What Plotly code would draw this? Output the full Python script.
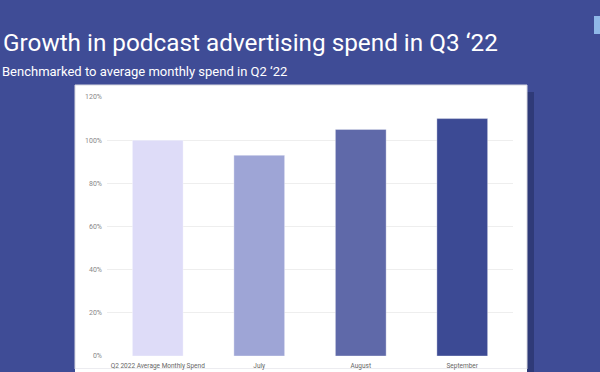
import plotly.graph_objects as go

categories = ["Q2 2022 Average Monthly Spend", "July", "August", "September"]
values = [100, 93, 105, 110]
bar_colors = ["#dedcf8", "#9ea5d6", "#5f69a9", "#3c4a94"]
y_ticks = [0, 20, 40, 60, 80, 100, 120]
y_tick_labels = ["0%", "20%", "40%", "60%", "80%", "100%", "120%"]

W, H = 600, 372
L, R, T, B = 107, 87, 97, 16
pw, ph = W - L - R, H - T - B

def px(x):
    return (x - L) / pw

def py(y):
    return (H - B - y) / ph

fig = go.Figure()
fig.add_trace(go.Bar(
    x=categories, y=values,
    marker=dict(color=bar_colors, line=dict(color="rgba(255,255,255,0.35)", width=1)),
    width=0.5,
    hoverinfo="skip",
))

shapes = [
    # shadow
    dict(type="rect", xref="paper", yref="paper", x0=px(527), x1=px(534), y0=py(380), y1=py(92),
         fillcolor="#2f3a78", line=dict(width=0), layer="below"),
    # white panel
    dict(type="rect", xref="paper", yref="paper", x0=px(75), x1=px(527), y0=py(369), y1=py(85),
         fillcolor="#ffffff", line=dict(color="#d8d8e0", width=1), layer="below"),
    dict(type="rect", xref="paper", yref="paper", x0=px(75), x1=px(527), y0=py(380), y1=py(369),
         fillcolor="#ffffff", line=dict(width=0), layer="below"),
    # logo fragment top right
    dict(type="rect", xref="paper", yref="paper", x0=px(594), x1=px(601), y0=py(34), y1=py(16),
         fillcolor="#8fb8e8", line=dict(width=0), layer="below"),
]

annotations = [
    dict(text="Growth in podcast advertising spend in Q3 \u201822", xref="paper", yref="paper",
         x=px(1), y=py(43), xanchor="left", yanchor="middle", showarrow=False,
         font=dict(family="Roboto", size=24.3, color="#ffffff")),
    dict(text="Benchmarked to average monthly spend in Q2 \u201822", xref="paper", yref="paper",
         x=px(0), y=py(71), xanchor="left", yanchor="middle", showarrow=False,
         font=dict(family="Roboto", size=13, color="#ffffff")),
]

fig.update_layout(
    width=W, height=H,
    margin=dict(l=L, r=R, t=T, b=B, pad=0, autoexpand=False),
    paper_bgcolor="#3f4c96",
    plot_bgcolor="rgba(0,0,0,0)",
    showlegend=False,
    bargap=0.5,
    shapes=shapes,
    annotations=annotations,
    font=dict(family="Roboto"),
    xaxis=dict(showgrid=False, showline=False, ticks="", tickfont=dict(size=6.5, color="#666666"),
               ticklabelstandoff=4, fixedrange=True, automargin=False),
    yaxis=dict(range=[0, 120], tickvals=y_ticks, ticktext=y_tick_labels,
               showgrid=True, gridcolor="#eeeeee", gridwidth=1, zeroline=False,
               showline=False, ticks="", tickfont=dict(size=7, color="#888888"),
               ticklabelstandoff=4, fixedrange=True, automargin=False),
)

fig.write_html("out.html", config={"displayModeBar": False},
               post_script="document.body.style.margin='0';document.body.style.overflow='hidden';")
